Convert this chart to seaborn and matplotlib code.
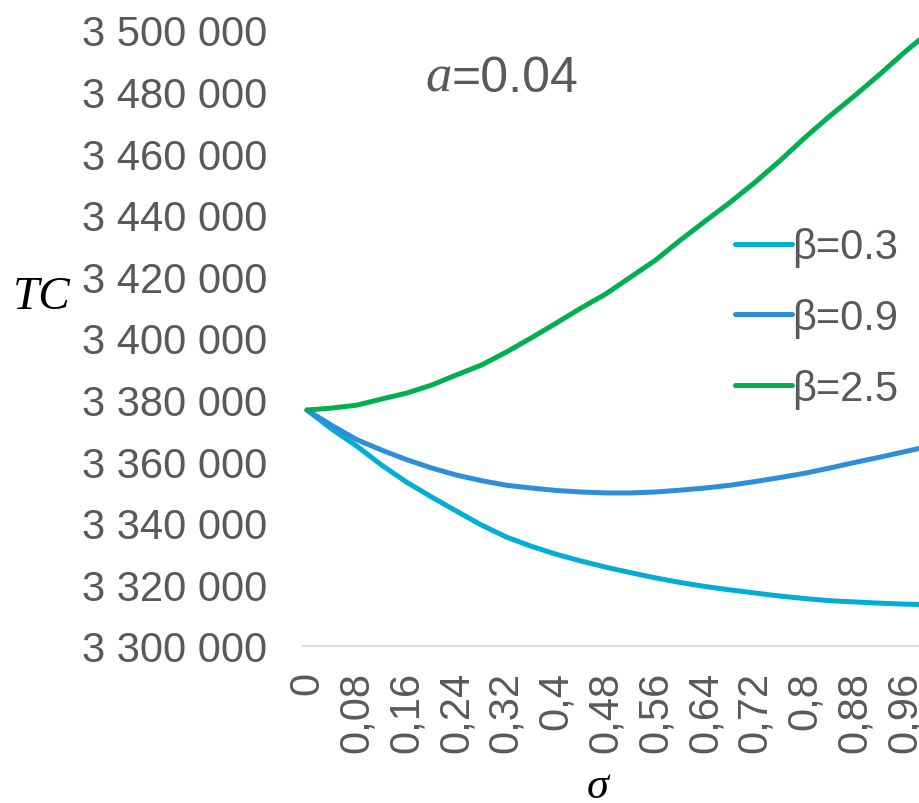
import matplotlib
matplotlib.use("Agg")
import matplotlib.pyplot as plt
import pandas as pd
import seaborn as sns

# sigma categories (step 0.04)
SIGMA = [0.0, 0.04, 0.08, 0.12, 0.16, 0.2, 0.24, 0.28, 0.32, 0.36, 0.4, 0.44, 0.48,
         0.52, 0.56, 0.6, 0.64, 0.68, 0.72, 0.76, 0.8, 0.84, 0.88, 0.92, 0.96, 1.0]
TC_B03 = [3376600, 3370400, 3364900, 3358700, 3353200, 3348400, 3343800, 3339300,
          3335400, 3332400, 3329800, 3327600, 3325600, 3323800, 3322100, 3320600,
          3319300, 3318200, 3317200, 3316200, 3315400, 3314700, 3314300, 3313900,
          3313600, 3313400]
TC_B09 = [3376600, 3371600, 3367000, 3363600, 3360500, 3357800, 3355500, 3353700,
          3352200, 3351300, 3350500, 3350000, 3349700, 3349700, 3350000, 3350600,
          3351300, 3352200, 3353400, 3354700, 3356100, 3357800, 3359600, 3361300,
          3363100, 3364900]
TC_B25 = [3376600, 3377250, 3378200, 3380200, 3382100, 3384700, 3388000, 3391200,
          3395400, 3400000, 3404800, 3409700, 3414300, 3419800, 3425300, 3431800,
          3438000, 3444100, 3450600, 3457600, 3465100, 3472100, 3478700, 3485600,
          3492800, 3499500]
LABELS = ["β=0.3", "β=0.9", "β=2.5"]
COLORS = ["#00AED3", "#2F8ED9", "#00B04F"]
YTICKS = [3300000 + 20000 * k for k in range(11)]

GREY = "#595959"

df = pd.concat([
    pd.DataFrame({"sigma": SIGMA, "TC": vals, "beta": lab})
    for vals, lab in zip([TC_B03, TC_B09, TC_B25], LABELS)
])

sns.set_theme(style="white")
plt.rcParams["font.family"] = ["Liberation Sans", "DejaVu Sans"]

fig = plt.figure(figsize=(9.2, 8.04), dpi=100)
ax = fig.add_axes([303 / 920, 157 / 804, 617 / 920, 616 / 804])

sns.lineplot(data=df, x="sigma", y="TC", hue="beta", palette=COLORS,
             hue_order=LABELS, linewidth=3.6, sort=False, legend=False, ax=ax)

ax.set_xlim(-0.0064, 0.9847)
ax.set_ylim(3300000, 3500000)

ax.set_yticks(YTICKS)
ax.set_yticklabels([f"{v:,.0f}".replace(",", " ") for v in YTICKS])
xt = SIGMA[::2]
ax.set_xticks(xt)
ax.set_xticklabels([f"{v:g}".replace(".", ",") for v in xt], rotation=90)
ax.tick_params(axis="both", length=0, labelsize=30, colors=GREY)
ax.tick_params(axis="y", pad=26)
ax.tick_params(axis="x", pad=18)

for s in ["top", "right", "left"]:
    ax.spines[s].set_visible(False)
ax.spines["bottom"].set_color("#D9D9D9")
ax.spines["bottom"].set_linewidth(1.5)
ax.set_xlabel("")
ax.set_ylabel("")

fig.text(598 / 920, 1 - 787 / 804, "σ", family="Liberation Serif", style="italic",
         fontsize=32, ha="center", va="center", color="black")
fig.text(42 / 920, 1 - 298 / 804, "TC", family="Liberation Serif", style="italic",
         fontsize=34, ha="center", va="center", color="black")

fig.text(452 / 920, 1 - 79 / 804, "a", family="Liberation Serif", style="italic",
         fontsize=38, ha="right", va="center", color=GREY)
fig.text(452 / 920, 1 - 79 / 804, "=0.04", fontsize=36, ha="left", va="center",
         color=GREY)

handles = ax.lines[:3]
ax.legend(handles, LABELS, loc="center left", bbox_to_anchor=(735 / 920, 1 - 319 / 804),
          bbox_transform=fig.transFigure, frameon=False, fontsize=30,
          labelcolor=GREY, handlelength=1.36, handletextpad=0.0,
          labelspacing=0.74, borderpad=0, borderaxespad=0)

fig.savefig("out.png", dpi=100)
